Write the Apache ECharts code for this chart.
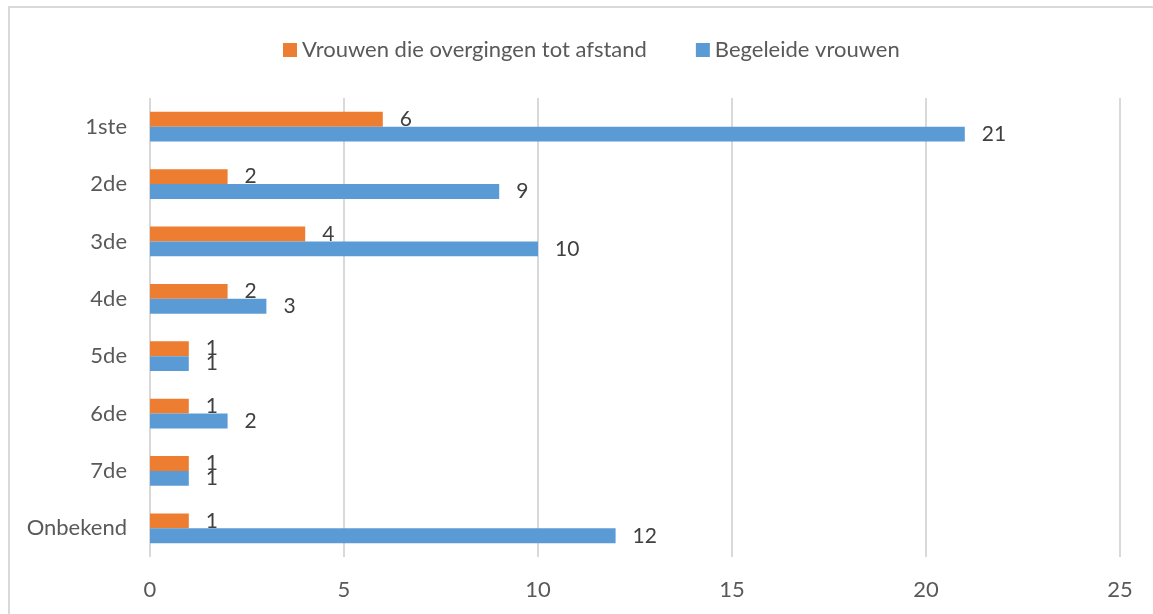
<!DOCTYPE html>
<html>
<head>
<meta charset="utf-8">
<script src="https://cdn.jsdelivr.net/npm/echarts@6/dist/echarts.min.js"></script>
<style>
  html, body { margin: 0; padding: 0; background: #fff; }
  #main { width: 1153px; height: 614px; }
</style>
</head>
<body>
<div id="main"></div>
<script>
// categories top to bottom
var categories = ['1ste', '2de', '3de', '4de', '5de', '6de', '7de', 'Onbekend'];
var afstand = [6, 2, 4, 2, 1, 1, 1, 1];      // Vrouwen die overgingen tot afstand
var begeleid = [21, 9, 10, 3, 1, 2, 1, 12];  // Begeleide vrouwen
var xTicks = [0, 5, 10, 15, 20, 25];

var FONT = 'Lato';
var chart = echarts.init(document.getElementById('main'));

var labelStyle = {
  show: true,
  position: 'right',
  distance: 17,
  color: '#404040',
  fontFamily: FONT,
  fontSize: 21
};

chart.setOption({
  animation: false,
  backgroundColor: '#fff',
  graphic: [{
    type: 'rect',
    shape: { x: 9, y: 7, width: 1300, height: 800 },
    style: { fill: 'none', stroke: '#d9d9d9', lineWidth: 2 },
    silent: true
  }],
  legend: {
    left: 278,
    top: 34,
    itemWidth: 14,
    itemHeight: 14,
    itemGap: 49,
    icon: 'rect',
    textStyle: { color: '#595959', fontFamily: FONT, fontSize: 22 },
    data: ['Vrouwen die overgingen tot afstand', 'Begeleide vrouwen']
  },
  grid: { left: 150, right: 33, top: 98, bottom: 57, containLabel: false },
  xAxis: {
    type: 'value',
    min: xTicks[0],
    max: xTicks[xTicks.length - 1],
    interval: 5,
    axisLine: { show: false },
    axisTick: { show: false },
    splitLine: { lineStyle: { color: '#d9d9d9', width: 2 } },
    axisLabel: { color: '#595959', fontFamily: FONT, fontSize: 22, margin: 22 }
  },
  yAxis: {
    type: 'category',
    inverse: true,
    data: categories,
    axisLine: { show: false },
    axisTick: { show: false },
    axisLabel: { color: '#595959', fontFamily: FONT, fontSize: 22, margin: 23 }
  },
  series: [
    {
      name: 'Vrouwen die overgingen tot afstand',
      type: 'bar',
      data: afstand,
      barGap: '0%',
      barCategoryGap: '48%',
      itemStyle: { color: '#ed7d31' },
      label: labelStyle
    },
    {
      name: 'Begeleide vrouwen',
      type: 'bar',
      data: begeleid,
      barGap: '0%',
      barCategoryGap: '48%',
      itemStyle: { color: '#5b9bd5' },
      label: labelStyle
    }
  ]
});
</script>
</body>
</html>
